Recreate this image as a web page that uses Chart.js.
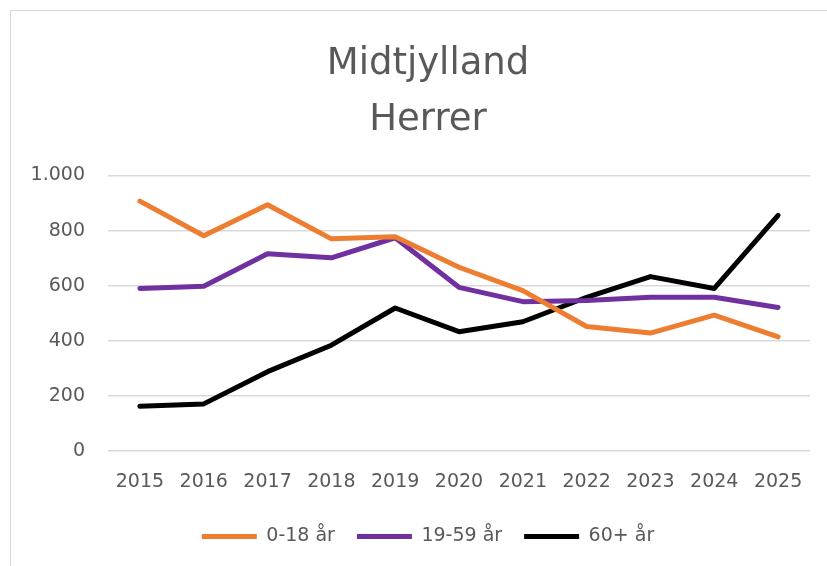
<!DOCTYPE html>
<html>
<head>
<meta charset="utf-8">
<script src="https://cdn.jsdelivr.net/npm/chart.js@4.4.1/dist/chart.umd.min.js"></script>
<style>
    html, body { margin: 0; padding: 0; background: #ffffff; overflow: hidden; }
    #frame {
        position: absolute; left: 10px; top: 10px;
        width: 840px; height: 580px;
        border: 1.5px solid #d9d9d9; box-sizing: border-box;
    }
    #wrap { position: absolute; left: 0; top: 0; width: 827px; height: 566px; }
</style>
</head>
<body>
<div id="frame"></div>
<div id="wrap"><canvas id="chartMidtjylland"></canvas></div>
<script>
// Data
const years = ['2015', '2016', '2017', '2018', '2019', '2020', '2021', '2022', '2023', '2024', '2025'];
const age0to18 = [907, 781, 894, 770, 778, 667, 582, 452, 428, 493, 414];
const age19to59 = [590, 598, 716, 701, 774, 594, 542, 546, 558, 558, 521];
const age60plus = [162, 171, 288, 384, 519, 433, 469, 558, 633, 590, 855];
const yTicks = [0, 200, 400, 600, 800, 1000];

const textColor = '#595959';
const tickFont = { family: 'DejaVu Sans', size: 19 };

// Danish thousands separator: 1000 -> "1.000"
function formatDa(value) {
    return String(value).replace(/\B(?=(\d{3})+(?!\d))/g, '.');
}

function lineSet(label, values, color) {
    return {
        label: label,
        data: values,
        borderColor: color,
        backgroundColor: color,
        borderWidth: 5,
        borderCapStyle: 'round',
        borderJoinStyle: 'round',
        pointRadius: 0,
        tension: 0
    };
}

const ctx = document.getElementById('chartMidtjylland');
new Chart(ctx, {
    type: 'line',
    data: {
        labels: years,
        datasets: [
            lineSet('0-18 år', age0to18, '#ED7D31'),
            lineSet('19-59 år', age19to59, '#7030A0'),
            lineSet('60+ år', age60plus, '#000000')
        ]
    },
    options: {
        responsive: true,
        maintainAspectRatio: false,
        animation: false,
        layout: {
            padding: { top: 10, right: 0, bottom: 10, left: 29 }
        },
        plugins: {
            title: {
                display: true,
                text: ['Midtjylland', 'Herrer'],
                color: textColor,
                font: { family: 'DejaVu Sans', size: 37, weight: 'normal', lineHeight: 1.52 },
                padding: { top: 26, bottom: 27 }
            },
            legend: {
                position: 'bottom',
                labels: {
                    usePointStyle: true,
                    pointStyle: 'line',
                    pointStyleWidth: 55,
                    padding: 22,
                    color: textColor,
                    font: { family: 'DejaVu Sans', size: 19 }
                }
            },
            tooltip: { enabled: false }
        },
        scales: {
            x: {
                offset: true,
                grid: { display: false },
                border: { display: false },
                ticks: { color: textColor, font: tickFont, padding: 12, maxRotation: 0 },
                afterFit: function(scale) { scale.height = 54; }
            },
            y: {
                min: 0,
                max: 1000,
                afterBuildTicks: function(scale) {
                    scale.ticks = yTicks.map(v => ({ value: v }));
                },
                afterFit: function(scale) { scale.width = 79; },
                grid: { color: '#d9d9d9', lineWidth: 1.5, drawTicks: false },
                border: { display: false },
                ticks: {
                    color: textColor,
                    font: tickFont,
                    padding: 23,
                    callback: function(value) { return formatDa(value); }
                }
            },
            // empty right-hand spacer so title and legend centre like the reference
            spacer: {
                position: 'right',
                grid: { display: false },
                border: { display: false },
                ticks: { display: false },
                afterFit: function(scale) { scale.width = 17; }
            }
        }
    }
});
</script>
</body>
</html>
